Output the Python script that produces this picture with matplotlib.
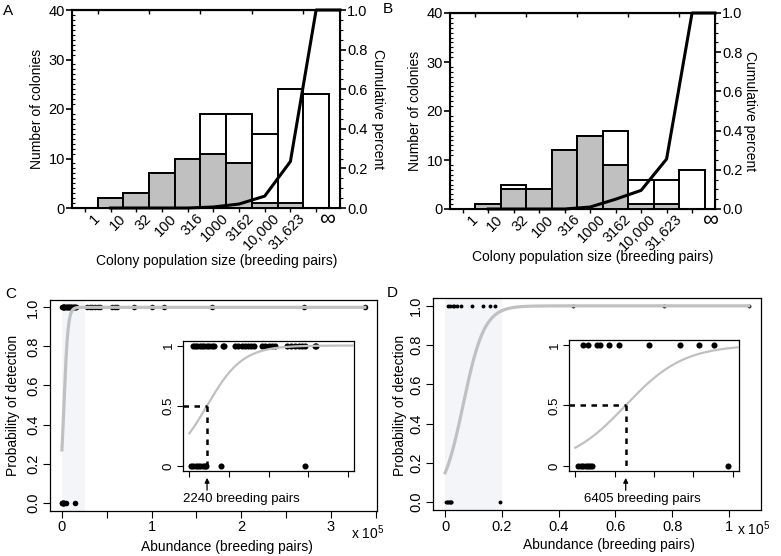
import numpy as np
import matplotlib
matplotlib.use('Agg')
import matplotlib.pyplot as plt
from matplotlib.ticker import FixedLocator, MultipleLocator
from matplotlib.transforms import ScaledTranslation

plt.rcParams['font.family'] = ['Liberation Sans', 'DejaVu Sans']
plt.rcParams['mathtext.fontset'] = 'custom'
plt.rcParams['mathtext.rm'] = 'Liberation Sans'
plt.rcParams['font.size'] = 10

# --- histogram panels (A, B) ---
bin_labels = ['1', '10', '32', '100', '316', '1000', '3162', '10,000', '31,623', '\u221e']
a_total = [2, 3, 7, 10, 19, 19, 15, 24, 23]
a_grey = [2, 3, 7, 10, 11, 9, 1, 1, 0]
a_cum = [0, 0, 0, 0, 0.005, 0.02, 0.06, 0.235, 1.0]
b_total = [1, 5, 4, 12, 15, 16, 6, 6, 8]
b_grey = [1, 4, 4, 12, 15, 9, 1, 1, 0]
b_cum = [0, 0, 0, 0, 0.01, 0.05, 0.095, 0.255, 1.0]

# --- detection panels (C, D): abundance in breeding pairs ---
c_detected = [400, 700, 1000, 1300, 1600, 1900, 2200, 2500, 2800, 3100, 4200, 4400,
              5800, 6200, 6600, 7000, 7400, 7800, 8200, 9200, 9600, 10000, 10400, 10800,
              12300, 12800, 13300, 13800, 14200, 14600, 15900, 16000,
              28000, 31000, 34000, 37000, 40000, 42000, 56000, 59000, 62000,
              80000, 100000, 114000, 167000, 270000, 338000]
c_missed = [200, 500, 800, 1100, 1400, 1700, 2000, 2150, 4000, 14650]
c_p0, c_mid = 0.27, 2240

d_detected = [980, 1570, 2760, 3180, 4240, 5510, 9330, 13360, 15690, 17600,
              45200, 77100, 107000]
d_missed = [400, 700, 1000, 1300, 1600, 1900, 2150, 19400]
d_p0, d_mid = 0.15, 6405

W, H = 781, 556
TICK_FS = 10.5
fig = plt.figure(figsize=(W / 100, H / 100), dpi=100)


def box(l, t, r, b):
    return [l / W, 1 - b / H, (r - l) / W, (b - t) / H]


def fxy(x, y):
    return x / W, 1 - y / H


def hist_panel(rect, total, grey, cum, xl, inf_dx):
    ax = fig.add_axes(rect)
    x = np.arange(len(total))
    ax.bar(x, total, width=1, align='edge', color='white', edgecolor='black', lw=1.4, zorder=2)
    ax.bar(x, grey, width=1, align='edge', color='#c0c0c0', edgecolor='black', lw=1.4, zorder=3)
    ax.set_xlim(-1, xl)
    ax.set_ylim(0, 40)
    for s in ax.spines.values():
        s.set_linewidth(1.5)
    ax.set_xticks(np.arange(len(bin_labels)))
    ax.set_xticklabels(bin_labels[:-1] + [''], rotation=45, ha='right', va='center',
                       rotation_mode='anchor', fontsize=TICK_FS)
    off = ScaledTranslation(6 / 72, 0, fig.dpi_scale_trans)
    for lab in ax.get_xticklabels():
        lab.set_transform(lab.get_transform() + off)
    # the infinity label sits upright
    ax.annotate(bin_labels[-1], xy=(len(total), 0), xycoords=('data', 'axes fraction'),
                xytext=(inf_dx, -11.5), textcoords='offset pixels',
                ha='center', va='center', fontsize=16, rotation=0)
    ax.tick_params(axis='x', which='major', length=0, pad=6)
    ax.xaxis.set_minor_locator(FixedLocator(np.arange(-0.5, len(total), 1)))
    ax.tick_params(axis='x', which='minor', direction='out', length=3, width=1)
    ax.set_yticks([0, 10, 20, 30, 40])
    ax.yaxis.set_minor_locator(MultipleLocator(1))
    ax.tick_params(axis='y', which='major', direction='out', length=4, width=1.2, pad=1,
                   labelsize=TICK_FS)
    ax.tick_params(axis='y', which='minor', direction='in', length=2, width=0.8)
    top = ax.secondary_xaxis('top')
    top.set_xticks([0, 2, 4, 6, 8])
    top.set_xticklabels([])
    top.tick_params(direction='in', length=3, width=1)
    top.spines['top'].set_linewidth(1.5)

    ax2 = ax.twinx()
    ax2.set_ylim(0, 1)
    ax2.plot(list(x + 0.5) + [xl], list(cum) + [cum[-1]], color='black', lw=2.2,
             clip_on=False, zorder=5)
    ax2.set_yticks(np.arange(0, 1.01, 0.2))
    ax2.set_yticklabels(['0.0', '0.2', '0.4', '0.6', '0.8', '1.0'])
    ax2.yaxis.set_minor_locator(MultipleLocator(0.05))
    ax2.tick_params(axis='y', which='major', direction='out', length=4, width=1.2, pad=1,
                    labelsize=TICK_FS)
    ax2.tick_params(axis='y', which='minor', direction='out', length=2, width=0.8)
    return ax


hist_panel(box(72, 10, 340, 208), a_total, a_grey, a_cum, 9.43, -2)
fig.text(*fxy(37, 109), 'Number of colonies', rotation=90, ha='center', va='center')
fig.text(*fxy(378, 109), 'Cumulative percent', rotation=270, ha='center', va='center')
fig.text(*fxy(217, 261), 'Colony population size (breeding pairs)', ha='center', va='center')
fig.text(*fxy(8, 11), 'A', ha='center', va='center', fontsize=11)

hist_panel(box(450, 13, 715, 209), b_total, b_grey, b_cum, 9.4, 5.5)
fig.text(*fxy(415, 111), 'Number of colonies', rotation=90, ha='center', va='center')
fig.text(*fxy(750, 111), 'Cumulative percent', rotation=270, ha='center', va='center')
fig.text(*fxy(593, 257), 'Colony population size (breeding pairs)', ha='center', va='center')
fig.text(*fxy(388, 9), 'B', ha='center', va='center', fontsize=11)


def logistic(x, p0, mid):
    a = np.log(p0 / (1 - p0))
    b = -a / mid
    return 1 / (1 + np.exp(-(a + b * x)))


SHADE = '#f4f5f8'
CURVE = '#c0c0c0'


def detect_panel(rect, inset_rect, det, mis, p0, mid, shade_to, xticks, xlabels, msize):
    det = np.array(det, float)
    mis = np.array(mis, float)
    xmax = max(det.max(), mis.max())
    ax = fig.add_axes(rect)
    ax.axvspan(0, shade_to, color=SHADE, lw=0, zorder=0)
    ax.plot(det, np.ones_like(det), 'o', color='black', ms=msize, mew=0, zorder=2)
    ax.plot(mis, np.zeros_like(mis), 'o', color='black', ms=msize, mew=0, zorder=2)
    xs = np.linspace(0, xmax, 600)
    ax.plot(xs, logistic(xs, p0, mid), color=CURVE, lw=2.3, zorder=3)
    ax.set_xlim(-0.04 * xmax, 1.04 * xmax)
    ax.set_ylim(-0.04, 1.04)
    for s in ax.spines.values():
        s.set_linewidth(0.9)
    ax.set_xticks(xticks)
    ax.set_xticklabels(xlabels)
    ax.set_yticks(np.arange(0, 1.01, 0.2))
    ax.set_yticklabels(['0.0', '0.2', '0.4', '0.6', '0.8', '1.0'], rotation=90, va='center')
    ax.tick_params(direction='out', length=5, width=0.8, pad=2, labelsize=TICK_FS)

    ins = fig.add_axes(inset_rect)
    ins.plot(det, np.ones_like(det), 'o', color='black', ms=4.4, mew=0, zorder=2)
    ins.plot(mis, np.zeros_like(mis), 'o', color='black', ms=4.4, mew=0, zorder=2)
    xi = np.linspace(0, 21000, 300)
    ins.plot(xi, logistic(xi, p0, mid), color=CURVE, lw=1.6, zorder=3)
    ins.set_xlim(-800, 20800)
    ins.set_ylim(-0.04, 1.04)
    ins.plot([-800, mid], [0.5, 0.5], color='black', lw=1.8, dashes=(2.2, 2.2), zorder=4)
    ins.plot([mid, mid], [0.5, 0], color='black', lw=1.8, dashes=(2.2, 2.2), zorder=4)
    ins.set_xticks([0, 5000, 10000, 15000, 20000])
    ins.set_xticklabels([])
    ins.set_yticks([0, 0.5, 1])
    ins.set_yticklabels(['0', '0.5', '1'], rotation=90, va='center', fontsize=9.5)
    ins.tick_params(direction='out', length=4, width=0.8, pad=2)
    for s in ins.spines.values():
        s.set_linewidth(0.9)
    tr = ins.get_xaxis_transform()
    ins.annotate('', xy=(mid, -0.055), xytext=(mid, -0.15), xycoords=tr, textcoords=tr,
                 arrowprops=dict(arrowstyle='-|>', color='black', lw=0.9,
                                 mutation_scale=7, shrinkA=0, shrinkB=0))
    ins.text(mid, -0.215, '%d breeding pairs' % mid, transform=tr, ha='center', va='center',
             fontsize=9.5)
    return ax, ins


axc, insc = detect_panel(box(49.8, 299.5, 377, 510.5), box(183, 340.7, 354, 470.7),
                         c_detected, c_missed, c_p0, c_mid, 25500,
                         np.arange(0, 3.6e5, 0.5e5), ['0', '', '1', '', '2', '', '3', ''], 4.0)
insc.texts[-1].set_x(6560)
fig.text(*fxy(13.5, 405), 'Probability of detection', rotation=90, ha='center', va='center')
fig.text(*fxy(227, 547), 'Abundance (breeding pairs)', ha='center', va='center')
fig.text(*fxy(351, 539), r'x 10$^5$', ha='left', va='baseline')
fig.text(*fxy(11, 294), 'C', ha='center', va='center', fontsize=11)

axd, insd = detect_panel(box(433, 298, 761, 510), box(569, 340, 739, 470.7),
                         d_detected, d_missed, d_p0, d_mid, 20000,
                         np.arange(0, 1.01e5, 0.2e5), ['0', '0.2', '0.4', '0.6', '0.8', '1'], 2.8)
insd.texts[-1].set_x(8460)
fig.text(*fxy(400, 405), 'Probability of detection', rotation=90, ha='center', va='center')
fig.text(*fxy(609, 545), 'Abundance (breeding pairs)', ha='center', va='center')
fig.text(*fxy(737, 535), r'x 10$^5$', ha='left', va='baseline')
fig.text(*fxy(392, 293), 'D', ha='center', va='center', fontsize=11)

fig.savefig('out.png', dpi=100)
